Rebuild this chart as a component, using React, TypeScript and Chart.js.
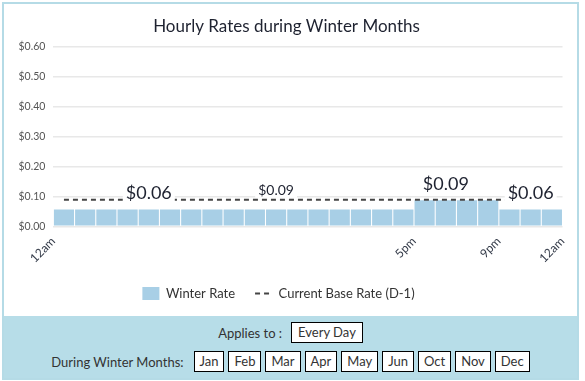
import React, { useEffect, useRef } from "react";
import { Chart, registerables } from "chart.js";

Chart.register(...registerables);

// ---- data ----
const hours = [0, 1, 2, 3, 4, 5, 6, 7, 8, 9, 10, 11, 12, 13, 14, 15, 16, 17, 18, 19, 20, 21, 22, 23];
const winterRate = [
  0.056, 0.056, 0.056, 0.056, 0.056, 0.056, 0.056, 0.056, 0.056, 0.056, 0.056, 0.056,
  0.056, 0.056, 0.056, 0.056, 0.056, 0.0865, 0.0865, 0.0865, 0.0865, 0.056, 0.056, 0.056,
];
const baseRate = [
  0.0882, 0.0882, 0.0882, 0.0882, 0.0882, 0.0882, 0.0882, 0.0882, 0.0882, 0.0882, 0.0882, 0.0882,
  0.0882, 0.0882, 0.0882, 0.0882, 0.0882, 0.0882, 0.0882, 0.0882, 0.0882, 0.0882, 0.0882, 0.0882,
];
const tickHours = [0, 17, 21, 24];
const tickLabels = ["12am", "5pm", "9pm", "12am"];
const yMax = 0.6;
const yStep = 0.1;

// rate call-outs: hour they sit over, text, and which series they belong to
const calloutHours = [4, 10, 18, 22];
const calloutTexts = ["$0.06", "$0.09", "$0.09", "$0.06"];
const calloutSeries = ["winter", "base", "winter", "winter"];

const months = ["Jan", "Feb", "Mar", "Apr", "May", "Jun", "Oct", "Nov", "Dec"];
const appliesTo = "Every Day";

const FONT = "Lato, 'Open Sans', sans-serif";
const calloutSizes = [18, 14, 18, 18];
const calloutGaps = [10, 5, 10, 10];

const calloutPlugin = {
  id: "callouts",
  afterLayout(chart: any) {
    if (chart.legend) {
      chart.legend.left -= 8;
      chart.legend.right -= 8;
    }
  },
  afterDatasetsDraw(chart: any) {
    const { ctx, scales } = chart;
    const x = scales.x;
    const y = scales.y;
    ctx.save();
    calloutHours.forEach((h, i) => {
      const v = calloutSeries[i] === "base" ? baseRate[h] : winterRate[h];
      const px = x.getPixelForValue(h + 0.5);
      const py = y.getPixelForValue(v) - calloutGaps[i];
      const size = calloutSizes[i];
      ctx.font = `${size}px ${FONT}`;
      const w = ctx.measureText(calloutTexts[i]).width;
      ctx.fillStyle = "#ffffff";
      ctx.fillRect(px - w / 2 - 3, py - size * 0.85, w + 6, size * 0.85 + 3);
      ctx.fillStyle = "#1e2230";
      ctx.textAlign = "center";
      ctx.textBaseline = "alphabetic";
      ctx.fillText(calloutTexts[i], px, py);
    });
    ctx.restore();
  },
};

function RateChart() {
  const ref = useRef<HTMLCanvasElement | null>(null);
  useEffect(() => {
    if (!ref.current) return;
    const chart = new Chart(ref.current, {
      type: "bar",
      data: {
        datasets: [
          {
            type: "bar",
            label: "Winter Rate",
            data: hours.map((h, i) => ({ x: h + 0.5, y: winterRate[i] })),
            backgroundColor: "#a8cfe6",
            borderWidth: 0,
            barPercentage: 0.95,
            categoryPercentage: 1,
            order: 2,
          } as any,
          {
            type: "line",
            label: "Current Base Rate (D-1)",
            data: hours.map((h, i) => ({ x: h + 0.5, y: baseRate[i] })),
            borderColor: "#444444",
            backgroundColor: "#444444",
            borderWidth: 2,
            borderDash: [5, 4],
            pointRadius: 0,
            fill: false,
            order: 1,
          } as any,
        ],
      },
      options: {
        animation: false,
        responsive: true,
        maintainAspectRatio: false,
        layout: { padding: { left: 6.5, right: 14.5, top: 0, bottom: 6 } },
        plugins: {
          title: {
            display: true,
            text: "Hourly Rates during Winter Months",
            color: "#1e2230",
            font: { family: FONT, size: 17, weight: "normal" },
            padding: { top: 12, bottom: 10 },
          },
          legend: {
            position: "bottom",
            labels: {
              color: "#333333",
              font: { family: FONT, size: 13 },
              boxWidth: 17,
              boxHeight: 17,
              usePointStyle: true,
              pointStyleWidth: 17,
              padding: 20,
              generateLabels: (c: any) =>
                c.data.datasets.map((ds: any, i: number) => ({
                  text: ds.label,
                  datasetIndex: i,
                  fillStyle: i === 0 ? "#a8cfe6" : "rgba(0,0,0,0)",
                  strokeStyle: i === 0 ? "#a8cfe6" : "#444444",
                  lineWidth: i === 0 ? 0 : 2,
                  lineDash: i === 0 ? [] : [5, 4],
                  pointStyle: i === 0 ? "rect" : "line",
                  fontColor: "#333333",
                  hidden: false,
                })),
            },
          },
          tooltip: { enabled: false },
        },
        scales: {
          x: {
            type: "linear",
            min: 0,
            max: 24,
            offset: false,
            grid: { display: false, drawTicks: false },
            border: { display: false },
            afterBuildTicks: (scale: any) => {
              scale.ticks = tickHours.map((v) => ({ value: v }));
            },
            afterFit: (scale: any) => {
              scale.paddingLeft = 0;
              scale.paddingRight = 0;
              scale.height -= 6.5;
            },
            ticks: {
              autoSkip: false,
              minRotation: 45,
              maxRotation: 45,
              padding: 8,
              color: "#333a48",
              font: { family: FONT, size: 12 },
              callback: (v: any) => {
                const idx = tickHours.indexOf(Number(v));
                return idx >= 0 ? tickLabels[idx] : "";
              },
            },
          },
          y: {
            min: 0,
            max: yMax,
            grid: { color: "#e8e8e8", drawTicks: false, lineWidth: 1.5 },
            border: { display: false },
            ticks: {
              stepSize: yStep,
              padding: 8,
              color: "#555555",
              font: { family: FONT, size: 10.5 },
              callback: (v: any) => "$" + Number(v).toFixed(2),
            },
          },
        },
      },
      plugins: [calloutPlugin],
    });
    return () => chart.destroy();
  }, []);
  return (
    <div style={{ position: "relative", width: 573, height: 312 }}>
      <canvas ref={ref} />
    </div>
  );
}

const boxStyle: React.CSSProperties = {
  display: "inline-block",
  border: "1px solid #000",
  background: "#fff",
  padding: "0 5px",
  lineHeight: "19px",
  height: 19,
};

export default function App() {
  useEffect(() => {
    document.body.style.margin = "0";
  }, []);
  return (
    <div
      style={{
        position: "absolute",
        left: 2,
        top: 2,
        width: 573,
        border: "2px solid #b5dbe6",
        background: "#fff",
        fontFamily: FONT,
        color: "#333",
        fontSize: 13,
      }}
    >
      <RateChart />
      <div style={{ background: "#b7dde8", height: 62, boxSizing: "border-box", paddingTop: 6 }}>
        <div style={{ display: "flex", justifyContent: "center", alignItems: "center", gap: 9, height: 21 }}>
          <span>Applies to :</span>
          <span style={{ ...boxStyle, padding: "0 6px" }}>{appliesTo}</span>
        </div>
        <div
          style={{ display: "flex", justifyContent: "center", alignItems: "center", gap: 4, height: 21, marginTop: 8 }}
        >
          <span style={{ marginRight: 6 }}>During Winter Months:</span>
          {months.map((m) => (
            <span key={m} style={boxStyle}>
              {m}
            </span>
          ))}
        </div>
      </div>
    </div>
  );
}
